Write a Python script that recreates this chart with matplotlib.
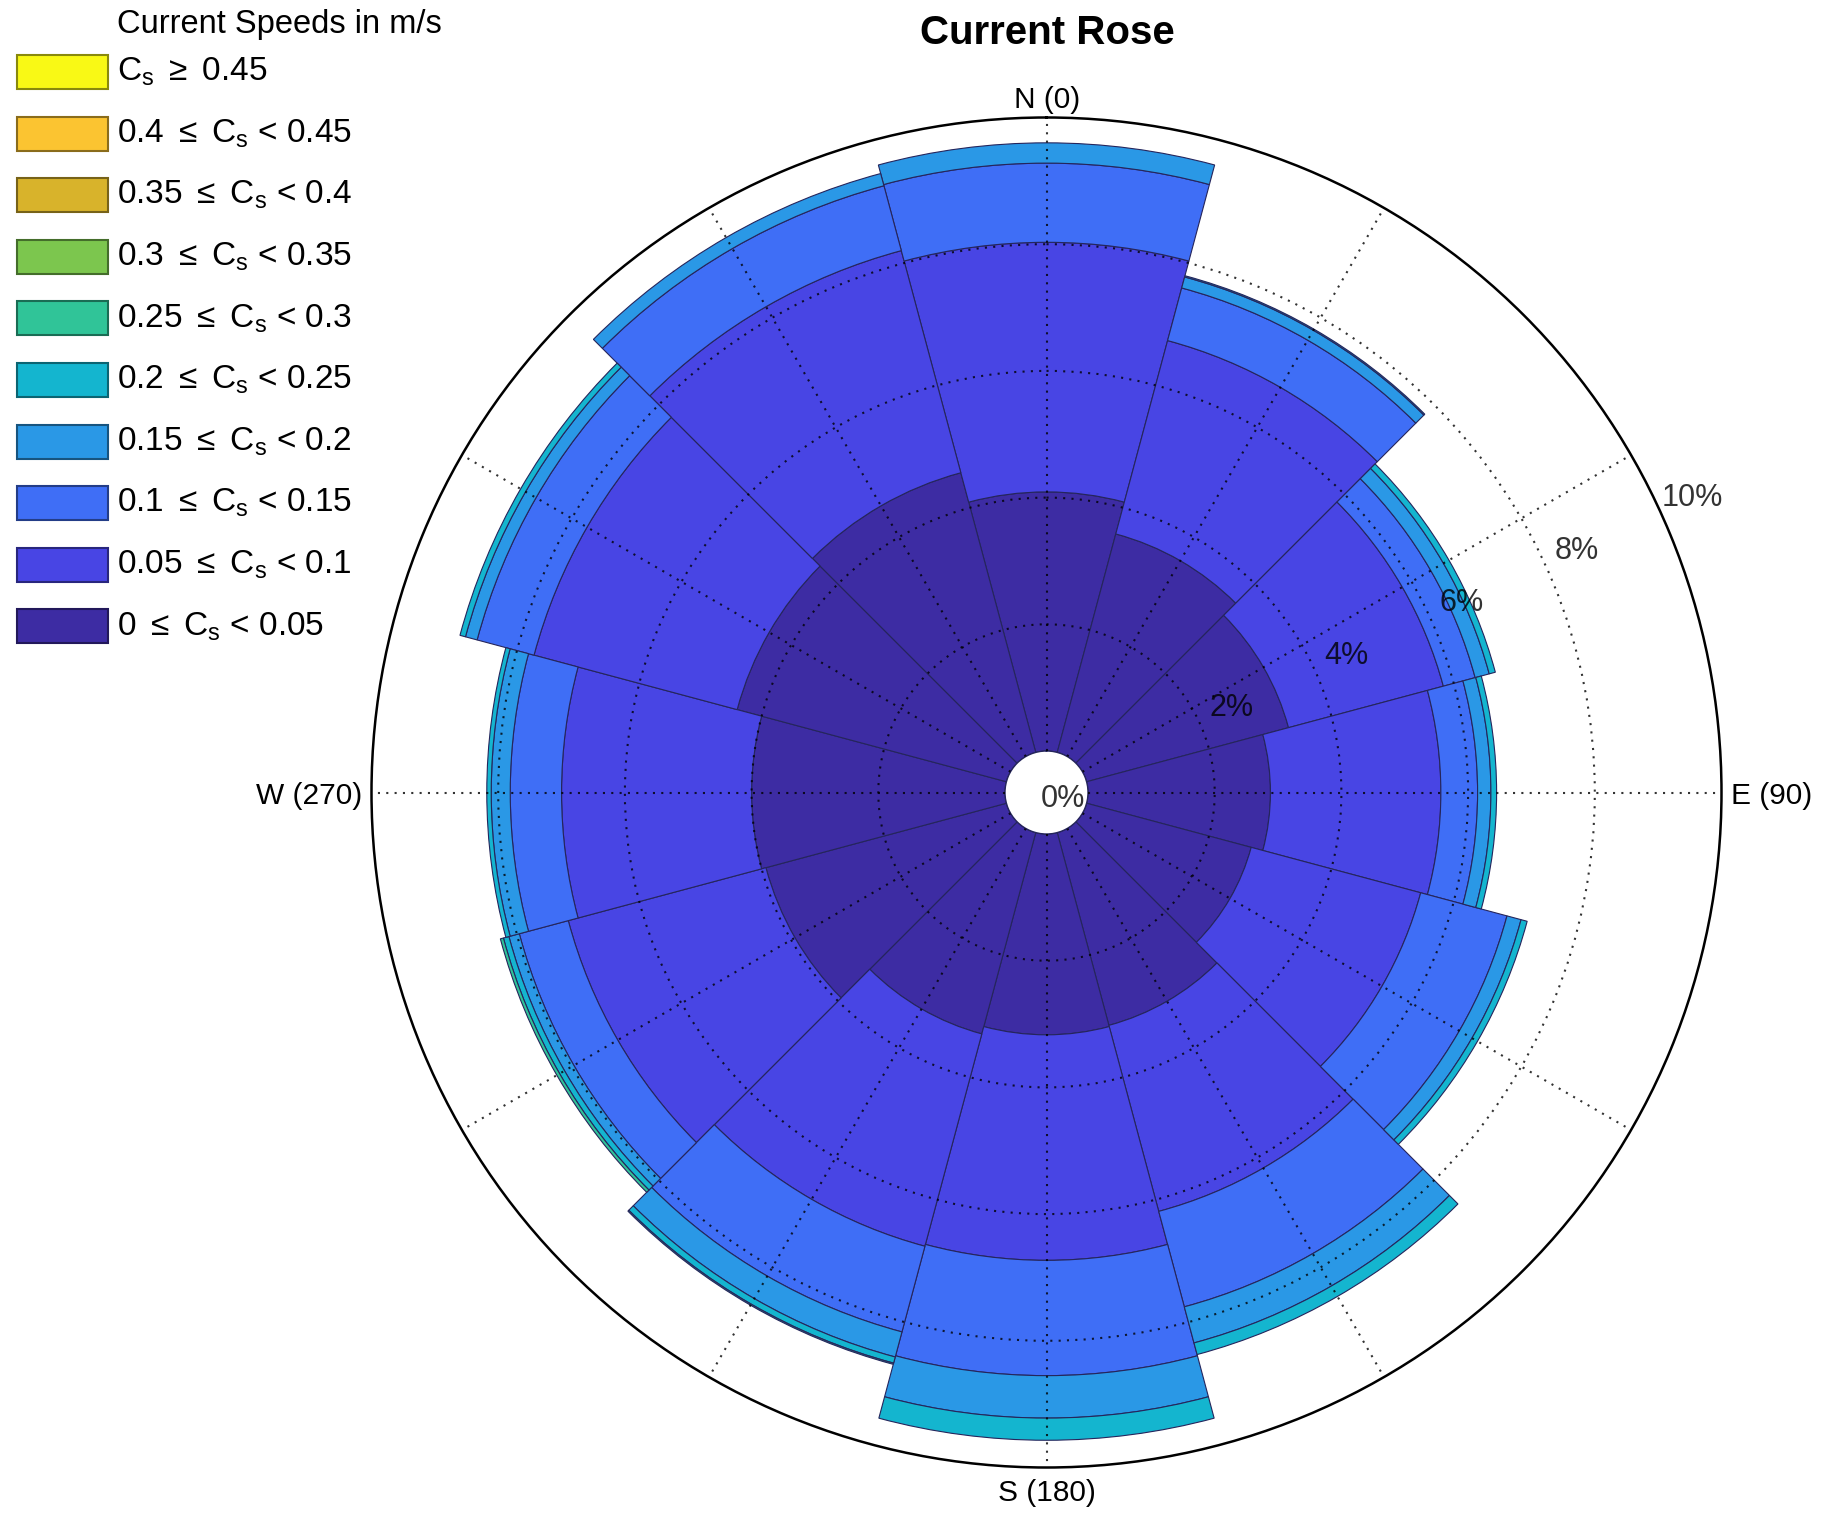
import numpy as np
import matplotlib
matplotlib.use('Agg')
import matplotlib.pyplot as plt
from matplotlib.patches import Rectangle
from matplotlib.colors import to_rgb

plt.rcParams['font.family'] = ['Liberation Sans', 'DejaVu Sans']
plt.rcParams['mathtext.fontset'] = 'custom'
plt.rcParams['mathtext.rm'] = 'Liberation Sans'
plt.rcParams['mathtext.it'] = 'Liberation Sans'

# Напрямки (центри секторів, градуси від півночі за годинниковою)
directions = [0, 30, 60, 90, 120, 150, 180, 210, 240, 270, 300, 330]

# Частоти (%) для кожного класу швидкості
freq_000_005 = [4.09, 3.57, 3.30, 2.88, 2.69, 3.15, 3.17, 3.29, 3.93, 4.00, 4.40, 4.57]
freq_005_010 = [3.94, 3.16, 2.53, 2.69, 2.77, 3.04, 3.56, 3.47, 3.23, 3.00, 3.32, 3.63]
freq_010_015 = [1.25, 0.86, 0.52, 0.58, 1.41, 1.56, 1.82, 1.40, 0.80, 0.81, 0.93, 1.06]
freq_015_020 = [0.32, 0.18, 0.23, 0.21, 0.23, 0.59, 0.67, 0.41, 0.17, 0.30, 0.19, 0.20]
freq_020_025 = [0.00, 0.02, 0.10, 0.09, 0.10, 0.19, 0.35, 0.10, 0.09, 0.07, 0.09, 0.00]
freq_025_030 = [0.00, 0.00, 0.00, 0.00, 0.00, 0.00, 0.00, 0.02, 0.05, 0.00, 0.00, 0.00]
freq_030_035 = [0.0] * 12
freq_035_040 = [0.0] * 12
freq_040_045 = [0.0] * 12
freq_045_up = [0.0] * 12

freqs = [freq_000_005, freq_005_010, freq_010_015, freq_015_020, freq_020_025,
         freq_025_030, freq_030_035, freq_035_040, freq_040_045, freq_045_up]

speed_labels = [r'0 $\leq$ C$_\mathrm{s}$ < 0.05',
                r'0.05 $\leq$ C$_\mathrm{s}$ < 0.1',
                r'0.1 $\leq$ C$_\mathrm{s}$ < 0.15',
                r'0.15 $\leq$ C$_\mathrm{s}$ < 0.2',
                r'0.2 $\leq$ C$_\mathrm{s}$ < 0.25',
                r'0.25 $\leq$ C$_\mathrm{s}$ < 0.3',
                r'0.3 $\leq$ C$_\mathrm{s}$ < 0.35',
                r'0.35 $\leq$ C$_\mathrm{s}$ < 0.4',
                r'0.4 $\leq$ C$_\mathrm{s}$ < 0.45',
                r'C$_\mathrm{s}$ $\geq$ 0.45']

colors = ['#3d2ca3', '#4845e4', '#3f6ef6', '#2a98e6', '#14b5cf',
          '#30c498', '#7cc64e', '#d8b32b', '#fbc431', '#f9f915']

ring_ticks = [2, 4, 6, 8, 10]

W, H = 1828, 1533
fig = plt.figure(figsize=(W / 100, H / 100), dpi=100)

ax = fig.add_axes([371.5 / W, 1 - 1467.5 / H, 1350 / W, 1350 / H], projection='polar')
ax.set_theta_zero_location('N')
ax.set_theta_direction(-1)
ax.set_ylim(0, 10)
ax.set_rorigin(-0.655)

theta = np.deg2rad(directions)
bottom = np.zeros(len(directions))
for k, f in enumerate(freqs):
    f = np.array(f)
    m = f > 0
    if m.any():
        ax.bar(theta[m], f[m], width=np.deg2rad(30), bottom=bottom[m], color=colors[k],
               edgecolor='#25255c', linewidth=0.8, align='center', zorder=2)
    bottom += f

ax.set_xticks(np.deg2rad(np.arange(0, 360, 30)))
ax.set_xticklabels([])
ax.set_yticks(ring_ticks[:-1])
ax.set_yticklabels([])
ax.grid(True, color='k', linestyle=(0, (1, 3)), linewidth=1.5, alpha=0.8)
ax.set_axisbelow(False)
ax.spines['polar'].set_linewidth(1.8)
ax.spines['polar'].set_color('k')
ax.spines['inner'].set_linewidth(1.0)
ax.spines['inner'].set_color('#25255c')

for v in ring_ticks:
    ax.text(np.deg2rad(65.5), v + 0.55, f'{v}%', ha='center', va='center',
            fontsize=22, color='k', alpha=0.8, zorder=5)
ax.text(0.512, 0.495, '0%', transform=ax.transAxes, ha='center', va='center',
        fontsize=22, color='k', alpha=0.8, zorder=5)

# Підписи напрямків
fig.text(1047 / W, 1 - 100 / H, 'N (0)', ha='center', va='center', fontsize=21.5)
fig.text(1731 / W, 1 - 796 / H, 'E (90)', ha='left', va='center', fontsize=21.5)
fig.text(1047 / W, 1 - 1493 / H, 'S (180)', ha='center', va='center', fontsize=21.5)
fig.text(362 / W, 1 - 796 / H, 'W (270)', ha='right', va='center', fontsize=21.5)

fig.text(1047 / W, 1 - 33 / H, 'Current Rose', ha='center', va='center',
         fontsize=29, fontweight='bold')

# Легенда
fig.text(117 / W, 1 - 24 / H, 'Current Speeds in m/s', ha='left', va='center', fontsize=23.5)
for i in range(10):
    k = 9 - i
    yc = 72 + 61.6 * i
    ec = tuple(c * 0.55 for c in to_rgb(colors[k]))
    fig.patches.append(Rectangle((17 / W, 1 - (yc + 17) / H), 91 / W, 34 / H,
                                 transform=fig.transFigure, facecolor=colors[k],
                                 edgecolor=ec, linewidth=1.5))
    fig.text(117 / W, 1 - yc / H, speed_labels[k], ha='left', va='center', fontsize=24)

fig.savefig('out.png', dpi=100)
